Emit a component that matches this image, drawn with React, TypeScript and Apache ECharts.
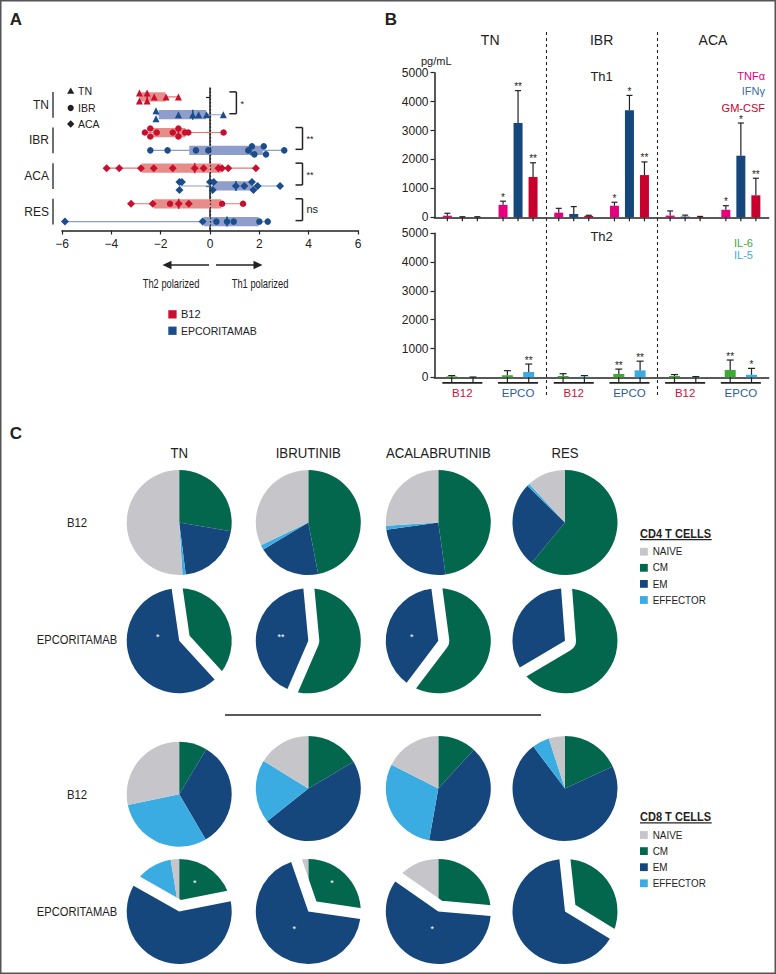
import React, { useEffect, useRef } from 'react';
import * as echarts from 'echarts';

const FONT = '"Liberation Sans", Arial, Helvetica, sans-serif';
const INK = '#222222';

// ---------------- Panel A data ----------------
const rowNames = ['TN B12', 'TN EPCO', 'IBR B12', 'IBR EPCO', 'ACA B12', 'ACA EPCO', 'RES B12', 'RES EPCO'];
const groupNames = ['TN', 'IBR', 'ACA', 'RES'];
const tnB12 = [-2.86, -2.86, -2.55, -2.55, -2.26, -1.78, -1.28];
const tnEpco = [-2.19, -2.19, -1.28, -0.7, -0.46, -0.14, 0.54];
const ibrB12 = [-2.64, -2.42, -2.42, -2.16, -1.51, -1.28, -1.28, -1.01, -0.88, 0.55];
const ibrEpco = [-2.42, -1.72, -0.57, -0.07, 1.55, 1.7, 1.8, 2.18, 2.27, 3.01];
const acaB12 = [-4.19, -3.68, -2.8, -2.28, -1.51, -0.62, -0.26, 0.34, 0.49, 0.74, 1.86];
const acaEpco = [-1.24, -1.24, -1.14, 0.0, 0.11, 0.15, 1.05, 1.39, 1.7, 1.76, 1.93, 2.84];
const resB12 = [-3.2, -2.32, -1.62, -1.27, -0.86, 0.49, 1.34];
const resEpco = [-5.88, -0.3, 0.26, 0.69, 0.96, 2.0, 2.34];
const resB12Prior = ['ACA', 'ACA', 'IBR', 'ACA', 'ACA', 'IBR', 'IBR'];
const resEpcoPrior = ['ACA', 'ACA', 'IBR', 'IBR', 'IBR', 'IBR', 'IBR'];
const boxLow = [-2.86, -2.08, -2.32, -0.84, -2.76, 0.11, -2.28, -0.26];
const boxMed = [-2.55, -0.7, -1.28, 1.66, -0.62, 1.05, -1.27, 0.69];
const boxHigh = [-1.8, -0.16, -1.0, 2.14, 0.45, 1.73, 0.45, 1.97];
const sigLabels = ['*', '**', '**', 'ns'];
const sigX = [1.07, 3.75, 3.75, 3.75];

// ---------------- Panel B data ----------------
const bCategories = ['B12', 'EPCO', 'B12', 'EPCO', 'B12', 'EPCO'];
const bCohorts = ['TN', 'IBR', 'ACA'];
const tnfMean = [55, 430, 160, 400, 60, 260];
const tnfErr = [85, 127, 150, 120, 160, 140];
const tnfSig = ['', '*', '', '*', '', '*'];
const ifnMean = [0, 3265, 115, 3705, 25, 2130];
const ifnErr = [20, 1115, 255, 510, 50, 1130];
const ifnSig = ['', '**', '', '*', '', '*'];
const gmMean = [0, 1395, 50, 1460, 10, 760];
const gmErr = [20, 490, 20, 455, 20, 590];
const gmSig = ['', '**', '', '**', '', '**'];
const il6Mean = [30, 70, 45, 115, 45, 255];
const il6Err = [30, 160, 80, 170, 50, 345];
const il6Sig = ['', '', '', '**', '', '**'];
const il5Mean = [5, 185, 20, 240, 10, 90];
const il5Err = [5, 275, 40, 320, 15, 220];
const il5Sig = ['', '**', '', '**', '', '*'];
const bTicks = [0, 1000, 2000, 3000, 4000, 5000];

// ---------------- Panel C data ----------------
const cCohorts = ['TN', 'IBRUTINIB', 'ACALABRUTINIB', 'RES'];
const cellOrder = ['CM', 'EM', 'EFFECTOR', 'NAIVE'];
const legendOrder = ['NAIVE', 'CM', 'EM', 'EFFECTOR'];
const cd4B12 = [[27.7, 20.3, 1.0, 51.0], [47.0, 19.4, 1.5, 32.1], [47.8, 25.0, 1.2, 26.0], [61.0, 26.3, 0.8, 11.9]];
const cd4Epco = [[38.2, 59.5, 0.8, 1.5], [56.5, 42.0, 0.7, 0.8], [60.3, 37.6, 0.6, 1.5], [66.5, 32.3, 0.5, 0.7]];
const cd8B12 = [[8.6, 33.0, 30.1, 28.3], [16.5, 47.8, 19.5, 16.2], [11.8, 41.0, 29.7, 17.5], [18.1, 71.6, 5.3, 5.0]];
const cd8Epco = [[21.9, 61.3, 14.2, 2.6], [27.3, 67.4, 3.4, 1.9], [26.4, 58.3, 3.3, 12.0], [33.7, 64.6, 1.0, 0.7]];

// ---------------- styles / layout ----------------
const RED = '#C8102E';
const BLUE = '#1B4D8C';
const RED_BOX = '#E88C8A';
const BLUE_BOX = '#8E9DC9';
const RED_WHISK = '#E77575';
const BLUE_WHISK = '#8C9DCB';
const COL_TNF = '#E6007E';
const COL_IFN = '#15477D';
const COL_GM = '#C8002D';
const COL_IL6 = '#3DAA35';
const COL_IL5 = '#3AACE2';
const CELL_COLORS: Record<string, string> = { NAIVE: '#C6C5CA', CM: '#03674E', EM: '#15477D', EFFECTOR: '#3AACE2' };
const SYM: Record<string, string> = { TN: 'triangle', IBR: 'circle', ACA: 'diamond' };
const SYM_SIZE: Record<string, number> = { TN: 7, IBR: 6.5, ACA: 8 };

const B_LEFT = 434.5;
const B_CAT = 55.7;
const PIE_R = 52.5;
const PIE_X = [179.2, 308.3, 438.3, 565];
const Y_CD4_B12 = [522.5, 522.5, 522.5, 522.5];
const Y_CD4_EPCO = [640.8, 640.8, 640.8, 640.8];
const Y_CD8_B12 = [794.2, 788.5, 788.5, 788.5];
const Y_CD8_EPCO = [911.5, 911.5, 911.5, 911.5];

const rowPoints = [tnB12, tnEpco, ibrB12, ibrEpco, acaB12, acaEpco, resB12, resEpco];
function rowPrior(r: number): string[] {
  const pts = rowPoints[r];
  if (r === 6) return resB12Prior;
  if (r === 7) return resEpcoPrior;
  return pts.map(() => groupNames[Math.floor(r / 2)]);
}

function jitter(vals: number[]): number[] {
  const idx = vals.map((_, i) => i).sort((a, b) => vals[a] - vals[b]);
  const off = new Array(vals.length).fill(0);
  let cluster: number[] = [];
  const flush = () => {
    if (cluster.length > 1) cluster.forEach((k, j) => (off[k] = j % 2 === 0 ? -1 : 1));
    cluster = [];
  };
  idx.forEach((k, n) => {
    if (n > 0 && vals[k] - vals[idx[n - 1]] < 0.13) cluster.push(k);
    else {
      flush();
      cluster = [k];
    }
  });
  flush();
  return off;
}

function scatterData(rows: number[]) {
  const out: any[] = [];
  rows.forEach((r) => {
    const pts = rowPoints[r];
    const pri = rowPrior(r);
    const off = jitter(pts);
    pts.forEach((v, i) => {
      out.push({
        value: [v, r],
        symbol: SYM[pri[i]],
        symbolSize: SYM_SIZE[pri[i]],
        symbolOffset: [0, off[i] * 4],
      });
    });
  });
  return out;
}

function txt(text: string, x: number, y: number, opt: any = {}) {
  const size = opt.size || 12;
  const weight = opt.weight || 'normal';
  return {
    type: 'text',
    x,
    y,
    scaleX: opt.scaleX || 1,
    z: opt.z || 10,
    silent: true,
    style: {
      text,
      x: 0,
      y: 0,
      fill: opt.color || INK,
      font: `${weight} ${size}px ${FONT}`,
      textAlign: opt.align || 'center',
      textVerticalAlign: 'middle',
    },
  };
}
function ln(x1: number, y1: number, x2: number, y2: number, w = 1.5, color = INK, dash?: number[]) {
  return {
    type: 'line',
    silent: true,
    z: 10,
    shape: { x1, y1, x2, y2 },
    style: { stroke: color, lineWidth: w, lineDash: dash },
  };
}
function sq(x: number, y: number, s: number, color: string) {
  return { type: 'rect', silent: true, z: 10, shape: { x, y, width: s, height: s }, style: { fill: color } };
}

function errSeries(name: string, means: number[], errs: number[], sigs: string[], offset: number, ax: number, capHalf: number, tickLen: number) {
  return {
    type: 'custom',
    name: name + ' SEM',
    xAxisIndex: ax,
    yAxisIndex: ax,
    silent: true,
    z: 5,
    data: means.map((m, i) => [i, m, errs[i]]),
    encode: { x: 0, y: 1 },
    renderItem: (params: any, api: any) => {
      const i = api.value(0);
      const m = api.value(1);
      const e = api.value(2);
      const base = api.coord([i, 0]);
      const top = api.coord([i, m]);
      const cap = api.coord([i, m + e]);
      const x = base[0] + offset;
      const st = { stroke: INK, lineWidth: 1.2 };
      const children: any[] = [
        { type: 'line', shape: { x1: x, y1: top[1], x2: x, y2: cap[1] }, style: st },
        { type: 'line', shape: { x1: x - capHalf, y1: cap[1], x2: x + capHalf, y2: cap[1] }, style: st },
        { type: 'line', shape: { x1: x, y1: base[1], x2: x, y2: base[1] + tickLen }, style: st },
      ];
      const s = sigs[params.dataIndex];
      if (s) {
        children.push({
          type: 'text',
          style: { text: s, x, y: cap[1] - 4, fill: INK, font: `10px ${FONT}`, textAlign: 'center', textVerticalAlign: 'middle' },
        });
      }
      return { type: 'group', children };
    },
  };
}

function pieSeries(name: string, values: number[], cx: number, cy: number, exploded: boolean) {
  const base: any = {
    type: 'pie',
    center: [cx, cy],
    radius: PIE_R,
    startAngle: 90,
    clockwise: true,
    silent: true,
    avoidLabelOverlap: false,
    label: { show: false },
    labelLine: { show: false },
    emphasis: { disabled: true },
  };
  const full = {
    ...base,
    name,
    data: cellOrder.map((c, k) => ({ name: c, value: values[k], itemStyle: { color: CELL_COLORS[c], borderWidth: 0 } })),
  };
  if (!exploded) return [full];
  const gap = {
    ...base,
    name: name + ' gap',
    data: cellOrder.map((c, k) => ({
      name: c,
      value: values[k],
      itemStyle:
        c === 'EM'
          ? { color: CELL_COLORS.EM, borderColor: '#ffffff', borderWidth: 22, borderJoin: 'round' }
          : { color: 'rgba(0,0,0,0)', borderWidth: 0 },
    })),
  };
  const em = {
    ...base,
    name: name + ' EM',
    data: cellOrder.map((c, k) => ({
      name: c,
      value: values[k],
      itemStyle: c === 'EM' ? { color: CELL_COLORS.EM, borderWidth: 0 } : { color: 'rgba(0,0,0,0)', borderWidth: 0 },
    })),
  };
  return [full, gap, em];
}

function buildOption() {
  const axisLineStyle = { color: INK, width: 1.5 };
  const tickStyle = { color: INK, width: 1.2 };

  const series: any[] = [];

  // Panel A: whiskers, boxes, medians
  series.push({
    type: 'custom',
    name: 'polarization range',
    xAxisIndex: 0,
    yAxisIndex: 0,
    silent: true,
    z: 2,
    data: rowNames.map((_, r) => [r, boxLow[r], boxMed[r], boxHigh[r], Math.min(...rowPoints[r]), Math.max(...rowPoints[r])]),
    encode: { y: 0, x: [1, 2, 3, 4, 5] },
    renderItem: (params: any, api: any) => {
      const r = api.value(0);
      const isB12 = r % 2 === 0;
      const pLo = api.coord([api.value(1), r]);
      const pMed = api.coord([api.value(2), r]);
      const pHi = api.coord([api.value(3), r]);
      const pMin = api.coord([api.value(4), r]);
      const pMax = api.coord([api.value(5), r]);
      const cy = pLo[1];
      return {
        type: 'group',
        children: [
          { type: 'line', shape: { x1: pMin[0], y1: cy, x2: pMax[0], y2: cy }, style: { stroke: isB12 ? RED_WHISK : BLUE_WHISK, lineWidth: 1.1 } },
          { type: 'rect', shape: { x: pLo[0], y: cy - 4.6, width: pHi[0] - pLo[0], height: 9.2 }, style: { fill: isB12 ? RED_BOX : BLUE_BOX } },
          { type: 'line', shape: { x1: pMed[0], y1: cy - 5, x2: pMed[0], y2: cy + 5 }, style: { stroke: isB12 ? RED : BLUE, lineWidth: 1.5 } },
        ],
      };
    },
  });
  series.push({
    type: 'scatter',
    name: 'B12',
    xAxisIndex: 0,
    yAxisIndex: 0,
    silent: true,
    z: 4,
    itemStyle: { color: RED, opacity: 1 },
    data: scatterData([0, 2, 4, 6]),
    markLine: {
      silent: true,
      symbol: ['none', 'none'],
      label: { show: false },
      lineStyle: { type: [1.5, 2], color: INK, width: 1.2 },
      data: [{ xAxis: 0 }],
    },
  });
  series.push({
    type: 'scatter',
    name: 'EPCORITAMAB',
    xAxisIndex: 0,
    yAxisIndex: 0,
    silent: true,
    z: 4,
    itemStyle: { color: BLUE, opacity: 1 },
    data: scatterData([1, 3, 5, 7]),
  });
  // group labels with brackets
  series.push({
    type: 'custom',
    name: 'groups',
    xAxisIndex: 0,
    yAxisIndex: 0,
    silent: true,
    data: groupNames.map((_, g) => [g * 2, -6]),
    encode: { y: 0, x: 1 },
    renderItem: (params: any, api: any) => {
      const g = params.dataIndex;
      const p0 = api.coord([-6, g * 2]);
      const p1 = api.coord([-6, g * 2 + 1]);
      const xb = p0[0] - 9;
      return {
        type: 'group',
        children: [
          { type: 'line', shape: { x1: xb, y1: p0[1] - 5, x2: xb, y2: p1[1] + 3 }, style: { stroke: INK, lineWidth: 1.3 } },
          {
            type: 'text',
            style: { text: groupNames[g], x: xb - 4, y: (p0[1] + p1[1]) / 2 - 1, fill: INK, font: `12px ${FONT}`, textAlign: 'right', textVerticalAlign: 'middle' },
          },
        ],
      };
    },
  });
  // significance brackets
  series.push({
    type: 'custom',
    name: 'significance',
    xAxisIndex: 0,
    yAxisIndex: 0,
    silent: true,
    data: sigLabels.map((_, g) => [g * 2, sigX[g]]),
    encode: { y: 0, x: 1 },
    renderItem: (params: any, api: any) => {
      const g = params.dataIndex;
      const p0 = api.coord([sigX[g], g * 2]);
      const p1 = api.coord([sigX[g], g * 2 + 1]);
      const x = p0[0];
      const y0 = p0[1] - 5;
      const y1 = p1[1] - 1;
      const st = { stroke: INK, lineWidth: 1.5 };
      const isNs = sigLabels[g] === 'ns';
      return {
        type: 'group',
        children: [
          { type: 'line', shape: { x1: x, y1: y0, x2: x, y2: y1 }, style: st },
          { type: 'line', shape: { x1: x - 7, y1: y0, x2: x, y2: y0 }, style: st },
          { type: 'line', shape: { x1: x - 7, y1: y1, x2: x, y2: y1 }, style: st },
          {
            type: 'text',
            style: {
              text: sigLabels[g],
              x: x + 4,
              y: isNs ? (y0 + y1) / 2 - 1 : (y0 + y1) / 2 + 1,
              fill: INK,
              font: `${isNs ? 11 : 9}px ${FONT}`,
              textAlign: 'left',
              textVerticalAlign: 'middle',
            },
          },
        ],
      };
    },
  });

  // Panel B top (Th1)
  const topBars: [string, number[], string][] = [
    ['TNFα', tnfMean, COL_TNF],
    ['IFNγ', ifnMean, COL_IFN],
    ['GM-CSF', gmMean, COL_GM],
  ];
  topBars.forEach(([n, d, c]) => {
    series.push({ type: 'bar', name: n, xAxisIndex: 1, yAxisIndex: 1, data: d, barWidth: 9, barGap: '66.7%', silent: true, itemStyle: { color: c } });
  });
  series.push(errSeries('TNFα', tnfMean, tnfErr, tnfSig, -15, 1, 3, 4));
  series.push(errSeries('IFNγ', ifnMean, ifnErr, ifnSig, 0, 1, 3, 4));
  series.push(errSeries('GM-CSF', gmMean, gmErr, gmSig, 15, 1, 3, 4));

  // Panel B bottom (Th2)
  const botBars: [string, number[], string][] = [
    ['IL-6', il6Mean, COL_IL6],
    ['IL-5', il5Mean, COL_IL5],
  ];
  botBars.forEach(([n, d, c]) => {
    series.push({ type: 'bar', name: n, xAxisIndex: 2, yAxisIndex: 2, data: d, barWidth: 11, barGap: '93.6%', silent: true, itemStyle: { color: c } });
  });
  series.push(errSeries('IL-6', il6Mean, il6Err, il6Sig, -10.65, 2, 3.5, 5.5));
  series.push(errSeries('IL-5', il5Mean, il5Err, il5Sig, 10.65, 2, 3.5, 5.5));
  series.push({
    type: 'custom',
    name: 'group brackets',
    xAxisIndex: 2,
    yAxisIndex: 2,
    silent: true,
    data: bCategories.map((_, i) => [i, 0]),
    encode: { x: 0, y: 1 },
    renderItem: (params: any, api: any) => {
      const p = api.coord([api.value(0), 0]);
      return { type: 'line', shape: { x1: p[0] - 20, y1: p[1] + 5.5, x2: p[0] + 20, y2: p[1] + 5.5 }, style: { stroke: INK, lineWidth: 1.8 } };
    },
  });

  // Panel C pies
  for (let c = 0; c < 4; c++) {
    series.push(...pieSeries('CD4 B12 ' + cCohorts[c], cd4B12[c], PIE_X[c], Y_CD4_B12[c], false));
    series.push(...pieSeries('CD4 EPCORITAMAB ' + cCohorts[c], cd4Epco[c], PIE_X[c], Y_CD4_EPCO[c], true));
    series.push(...pieSeries('CD8 B12 ' + cCohorts[c], cd8B12[c], PIE_X[c], Y_CD8_B12[c], false));
    series.push(...pieSeries('CD8 EPCORITAMAB ' + cCohorts[c], cd8Epco[c], PIE_X[c], Y_CD8_EPCO[c], true));
  }

  // ---------- graphics ----------
  const g: any[] = [];
  g.push({ type: 'rect', silent: true, z: 50, shape: { x: 0.75, y: 0.75, width: 774.5, height: 972.5 }, style: { fill: 'none', stroke: '#555555', lineWidth: 1.5 } });
  g.push(txt('A', 16, 19, { size: 17, weight: 'bold' }));
  g.push(txt('B', 391, 19, { size: 17, weight: 'bold' }));
  g.push(txt('C', 16, 433, { size: 17, weight: 'bold' }));

  // Panel A legend inside
  g.push({ type: 'polygon', silent: true, z: 10, shape: { points: [[70.7, 87.6], [67.1, 93.8], [74.3, 93.8]] }, style: { fill: INK } });
  g.push({ type: 'circle', silent: true, z: 10, shape: { cx: 70.7, cy: 108, r: 3.1 }, style: { fill: INK } });
  g.push({ type: 'polygon', silent: true, z: 10, shape: { points: [[70.7, 120.3], [74.4, 124], [70.7, 127.7], [67, 124]] }, style: { fill: INK } });
  g.push(txt('TN', 78, 91, { size: 10.5, align: 'left' }));
  g.push(txt('IBR', 78, 108, { size: 10.5, align: 'left' }));
  g.push(txt('ACA', 78, 124, { size: 10.5, align: 'left' }));

  // arrows
  g.push(ln(209, 265, 168, 265, 1.6));
  g.push({ type: 'polygon', silent: true, z: 10, shape: { points: [[162.5, 265], [171.5, 260.8], [171.5, 269.2]] }, style: { fill: INK } });
  g.push(ln(216, 265, 257, 265, 1.6));
  g.push({ type: 'polygon', silent: true, z: 10, shape: { points: [[262.5, 265], [253.5, 260.8], [253.5, 269.2]] }, style: { fill: INK } });
  g.push(txt('Th2 polarized', 171, 283, { size: 13, scaleX: 0.72 }));
  g.push(txt('Th1 polarized', 260, 283, { size: 13, scaleX: 0.72 }));

  // A legend B12 / EPCORITAMAB
  g.push(sq(168.3, 310.2, 8.3, RED));
  g.push(txt('B12', 181, 314.3, { size: 11, align: 'left' }));
  g.push(sq(168.3, 326.6, 8.3, BLUE));
  g.push(txt('EPCORITAMAB', 181, 330.7, { size: 10.5, align: 'left' }));

  // Panel B annotations
  bCohorts.forEach((c, i) => g.push(txt(c, B_LEFT + B_CAT * (2 * i + 1), 40, { size: 14 })));
  g.push(txt('pg/mL', 421, 61, { size: 11, align: 'left' }));
  g.push(txt('Th1', B_LEFT + B_CAT * 3, 76, { size: 13 }));
  g.push(txt('Th2', B_LEFT + B_CAT * 3, 236, { size: 13 }));
  g.push(txt('TNFα', 765, 76, { size: 11, align: 'right', color: COL_TNF }));
  g.push(txt('IFNγ', 765, 91, { size: 11, align: 'right', color: '#3C6CA8' }));
  g.push(txt('GM-CSF', 765, 108, { size: 11, align: 'right', color: COL_GM }));
  g.push(txt('IL-6', 753, 243, { size: 11, align: 'right', color: COL_IL6 }));
  g.push(txt('IL-5', 753, 255, { size: 11, align: 'right', color: COL_IL5 }));
  [2, 4].forEach((k) => {
    const x = Math.round(B_LEFT + B_CAT * k) + 0.5;
    g.push(ln(x, 32, x, 398, 1.1, INK, [3, 3]));
  });

  // Panel C annotations
  cCohorts.forEach((c, i) => g.push(txt(c, PIE_X[i], 453, { size: 15, scaleX: 0.88 })));
  g.push(txt('B12', 77, 522, { size: 12, scaleX: 0.95 }));
  g.push(txt('EPCORITAMAB', 77, 640, { size: 12, scaleX: 0.93 }));
  g.push(txt('B12', 77, 794, { size: 12, scaleX: 0.95 }));
  g.push(txt('EPCORITAMAB', 77, 912, { size: 12, scaleX: 0.93 }));
  g.push(ln(225, 715, 541, 715, 1.5));

  const legendBlock = (title: string, y0: number) => {
    g.push(txt(title, 640, y0, { size: 12, weight: 'bold', scaleX: 0.92, align: 'left' }));
    g.push(ln(640, y0 + 5.6, 711.7, y0 + 5.6, 1.1));
    legendOrder.forEach((c, k) => {
      const y = y0 + 17.7 + k * 16.1;
      g.push(sq(640, y - 3.9, 7.8, CELL_COLORS[c]));
      g.push(txt(c, 652.7, y, { size: 11, scaleX: 0.9, align: 'left' }));
    });
  };
  legendBlock('CD4 T CELLS', 534);
  legendBlock('CD8 T CELLS', 817.3);

  const star = (s: string, x: number, y: number) => g.push(txt(s, x, y, { size: 9, color: '#ffffff', z: 100 }));
  star('*', 157.7, 637);
  star('**', 281, 637);
  star('*', 411.7, 637);
  star('*', 194.7, 883);
  star('*', 332, 883);
  star('*', 294.3, 929);
  star('*', 432.3, 929);

  const minus = (v: number) => (v < 0 ? '\u2212' + Math.abs(v) : String(v));
  const plain = (v: number) => String(v);

  return {
    animation: false,
    backgroundColor: '#ffffff',
    textStyle: { fontFamily: FONT },
    grid: [
      { left: 62, top: 88, width: 296, height: 142.5 },
      { left: B_LEFT, top: 72.7, width: B_CAT * 6, height: 144.6 },
      { left: B_LEFT, top: 233.3, width: B_CAT * 6, height: 144 },
    ],
    xAxis: [
      {
        gridIndex: 0,
        type: 'value',
        min: -6,
        max: 6,
        interval: 2,
        axisLine: { show: true, lineStyle: axisLineStyle },
        axisTick: { show: true, length: 4, lineStyle: tickStyle },
        axisLabel: { fontSize: 12, color: INK, margin: 7, fontFamily: FONT, formatter: minus },
        splitLine: { show: false },
      },
      {
        gridIndex: 1,
        type: 'category',
        data: bCategories,
        axisLine: { show: true, lineStyle: axisLineStyle },
        axisTick: { show: false },
        axisLabel: { show: false },
      },
      {
        gridIndex: 2,
        type: 'category',
        data: bCategories,
        axisLine: { show: true, lineStyle: axisLineStyle },
        axisTick: { show: false },
        axisLabel: {
          show: true,
          interval: 0,
          fontSize: 11.5,
          fontFamily: FONT,
          margin: 10,
          color: (v: any, i: number) => (i % 2 === 0 ? '#D0103A' : '#2C5C9C'),
        },
      },
    ],
    yAxis: [
      {
        gridIndex: 0,
        type: 'category',
        data: rowNames,
        inverse: true,
        axisLine: { show: true, lineStyle: axisLineStyle },
        axisTick: { show: true, alignWithLabel: true, length: 4, lineStyle: tickStyle },
        axisLabel: { show: false },
        splitLine: { show: false },
      },
      {
        gridIndex: 1,
        type: 'value',
        min: bTicks[0],
        max: bTicks[bTicks.length - 1],
        interval: bTicks[1] - bTicks[0],
        axisLine: { show: true, lineStyle: axisLineStyle },
        axisTick: { show: true, length: 4, lineStyle: tickStyle },
        axisLabel: { fontSize: 12, color: INK, margin: 6, fontFamily: FONT, formatter: plain },
        splitLine: { show: false },
      },
      {
        gridIndex: 2,
        type: 'value',
        min: bTicks[0],
        max: bTicks[bTicks.length - 1],
        interval: bTicks[1] - bTicks[0],
        axisLine: { show: true, lineStyle: axisLineStyle },
        axisTick: { show: true, length: 4, lineStyle: tickStyle },
        axisLabel: { fontSize: 12, color: INK, margin: 6, fontFamily: FONT, formatter: plain },
        splitLine: { show: false },
      },
    ],
    series,
    graphic: { elements: g },
  };
}

export default function App() {
  const ref = useRef<HTMLDivElement>(null);
  useEffect(() => {
    if (!ref.current) return;
    const chart = echarts.init(ref.current, null, { renderer: 'svg' });
    chart.setOption(buildOption() as any);
    return () => chart.dispose();
  }, []);
  return (
    <div
      ref={ref}
      style={{ position: 'absolute', left: 0, top: 0, width: 776, height: 974, background: '#ffffff' }}
    />
  );
}
